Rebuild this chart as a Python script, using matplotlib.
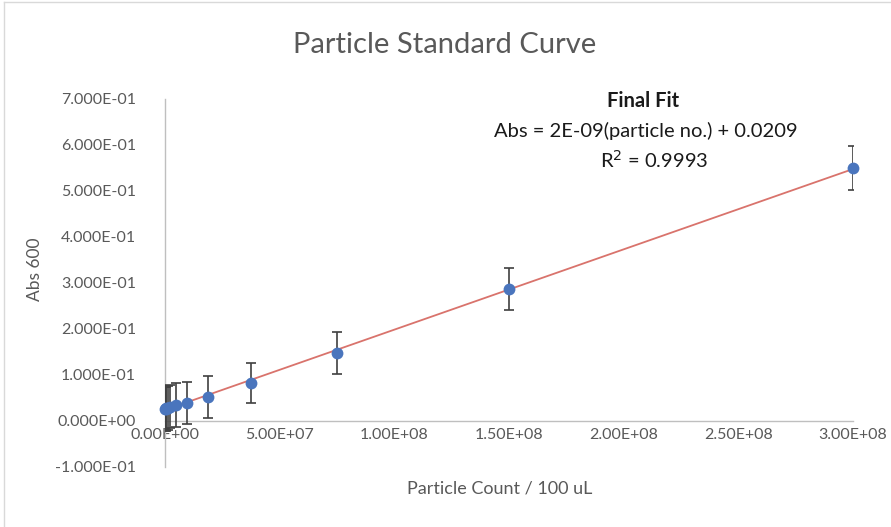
import numpy as np
import matplotlib
matplotlib.use("Agg")
import matplotlib.pyplot as plt
from matplotlib.lines import Line2D

plt.rcParams['font.family'] = ['Lato', 'DejaVu Sans']

particles = [3.0e8, 1.5e8, 7.5e7, 3.75e7, 1.875e7, 9.375e6, 4.6875e6,
             2.34375e6, 1.171875e6, 5.859375e5, 2.9296875e5, 0.0]
abs600 = [0.550, 0.287, 0.148, 0.083, 0.052, 0.039, 0.035,
          0.031, 0.029, 0.028, 0.027, 0.026]
abs_err = [0.048, 0.045, 0.046, 0.044, 0.046, 0.046, 0.047,
           0.047, 0.048, 0.048, 0.048, 0.048]
x_ticks = [0, 5e7, 1e8, 1.5e8, 2e8, 2.5e8, 3e8]
x_ticklabels = ["0.00E+00", "5.00E+07", "1.00E+08", "1.50E+08", "2.00E+08", "2.50E+08", "3.00E+08"]
y_ticks = [-0.1, 0.0, 0.1, 0.2, 0.3, 0.4, 0.5, 0.6, 0.7]
y_ticklabels = ["-1.000E-01", "0.000E+00", "1.000E-01", "2.000E-01", "3.000E-01",
                "4.000E-01", "5.000E-01", "6.000E-01", "7.000E-01"]

W, H = 891, 527
fig = plt.figure(figsize=(W / 100, H / 100), dpi=100)
fig.patch.set_facecolor('white')

# chart area border (top & left visible)
fig.add_artist(Line2D([4 / W, 4 / W], [0, 1 - 2 / H], transform=fig.transFigure, color='#d9d9d9', lw=1))
fig.add_artist(Line2D([4 / W, 1], [1 - 2 / H, 1 - 2 / H], transform=fig.transFigure, color='#d9d9d9', lw=1))

left, right, top, bottom = 165, 853, 99, 467
ax = fig.add_axes([left / W, 1 - bottom / H, (right - left) / W, (bottom - top) / H])
ax.set_facecolor('none')

xs = np.array(particles)
ys = np.array(abs600)
slope, intercept = np.polyfit(xs, ys, 1)
xfit = np.array([0, 3e8])
ax.plot(xfit, slope * xfit + intercept, color='#d9736c', lw=1.3, zorder=2)

ax.errorbar(xs, ys, yerr=abs_err, fmt='none', ecolor='#404040', elinewidth=1.2,
            capsize=3.3, capthick=1.2, zorder=3)
ax.plot(xs, ys, 'o', color='#4a75bd', markersize=8.5, markeredgewidth=0, zorder=4, clip_on=False)

ax.set_xlim(0, 3e8)
ax.set_ylim(-0.1, 0.7)
for s in ['top', 'right']:
    ax.spines[s].set_visible(False)
ax.spines['bottom'].set_position(('data', 0))
ax.spines['left'].set_color('#bfbfbf')
ax.spines['bottom'].set_color('#bfbfbf')
ax.spines['left'].set_linewidth(1.0)
ax.spines['bottom'].set_linewidth(1.0)
ax.set_xticks(x_ticks)
ax.set_xticklabels(x_ticklabels)
ax.set_yticks(y_ticks)
ax.set_yticklabels(y_ticklabels)
ax.tick_params(axis='both', length=0, labelsize=11.5, labelcolor='#595959')
ax.tick_params(axis='x', pad=5)
ax.tick_params(axis='y', pad=21)

fig.text(445 / W, 1 - 45 / H, "Particle Standard Curve", ha='center', va='center',
         fontsize=21, color='#595959')
fig.text(35 / W, 1 - 269 / H, "Abs 600", ha='center', va='center', rotation=90,
         fontsize=12.5, color='#595959')
fig.text(500 / W, 1 - 488 / H, "Particle Count / 100 uL", ha='center', va='center',
         fontsize=13, color='#595959')

fig.text(643 / W, 1 - 101 / H, "Final Fit", ha='center', va='center',
         fontsize=14.5, fontweight='bold', color='#1a1a1a')
fig.text(646 / W, 1 - 131 / H, "Abs = 2E-09(particle no.) + 0.0209", ha='center', va='center',
         fontsize=14.5, color='#1a1a1a')
fig.text(654 / W, 1 - 160 / H, "R$^{2}$ = 0.9993", ha='center', va='center',
         fontsize=14.5, color='#1a1a1a')

fig.savefig("out.png", dpi=100)
